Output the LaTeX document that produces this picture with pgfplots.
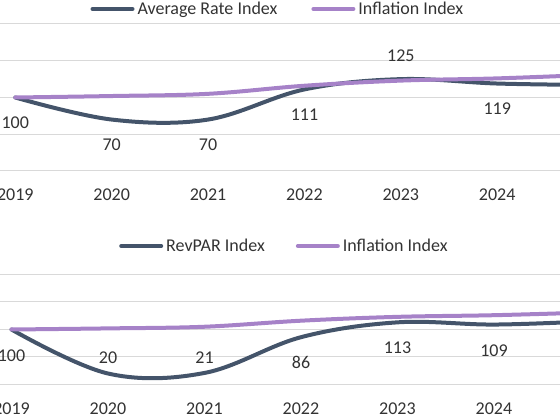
\documentclass[border=0pt]{standalone}
\usepackage{pgfplots}
\usepackage{pgfplotstable}
\pgfplotsset{compat=1.18}
\usepackage{fontspec}
\setmainfont{Carlito}

\definecolor{ratecol}{HTML}{44546A}
\definecolor{inflcol}{HTML}{A682C8}
\definecolor{gridcol}{HTML}{D9D9D9}
\definecolor{txtcol}{HTML}{333333}

% Average rate index vs inflation (2019 = 100)
% dy = label offset, lbl = 1 where the value is printed
\pgfplotstableread{
year rate infl dy lbl
2019 100 100 -25 1
2020 70  102 -25 1
2021 70  105 -25 1
2022 111 116 -25 1
2023 125 123 23  1
2024 119 126 -25 1
2025 117 131 -25 0
}\ratedata

% RevPAR index vs inflation (2019 = 100)
\pgfplotstableread{
year revpar infl dy lbl
2019 100 100 -26 1
2020 20  102 15.5 1
2021 21  105 15.5 1
2022 86  116 -25 1
2023 113 123 -25 1
2024 109 126 -26 1
2025 115 131 -25 0
}\revpardata

\newcommand{\bigfont}{\fontsize{18pt}{21pt}\selectfont}

\pgfplotsset{
  idxchart/.style={
    scale only axis,
    anchor=south west,
    xmin=2018.5, xmax=2025.5,
    ymin=0, ymax=200,
    xtick={2019,...,2024},
    ytick={0,50,100,150,200},
    yticklabels={},
    ymajorgrids,
    grid style={gridcol, line width=1pt},
    axis line style={draw=none},
    major tick length=0pt,
    tick label style={font=\bigfont, text=txtcol},
    xticklabel style={anchor=base, yshift=-29.7pt},
    /pgf/number format/assume math mode=true,
    /pgf/number format/1000 sep={},
    legend columns=2,
    legend cell align=left,
    legend image code/.code={\draw[##1, line cap=round] (0pt,0pt) -- (40pt,0pt);},
    legend style={draw=none, fill=none, inner sep=0pt, anchor=west,
      font=\bigfont, text=txtcol, nodes={inner sep=0pt},
      /tikz/every odd column/.style={column sep=3pt}},
  },
  idxline/.style={line width=4pt, smooth, tension=0.6, line cap=round, no marks},
  withlabels/.style={
    nodes near coords={\ifdim\lblon pt>0.5pt \pgfmathprintnumber{\pgfplotspointmeta}\fi},
    visualization depends on={\thisrow{dy} \as \dy},
    visualization depends on={\thisrow{lbl} \as \lblon},
    every node near coord/.style={font=\bigfont, text=txtcol, anchor=center, yshift=\dy pt},
  },
}

\begin{document}
\begin{tikzpicture}
\useasboundingbox (0,0) rectangle (560pt,420pt);
\clip (0,0) rectangle (560pt,420pt);

% upper panel: average rate
\begin{axis}[idxchart,
  at={(-32.9pt,249pt)}, width=674.8pt, height=147pt,
  legend style={at={(0.1826,1.102)},
    /tikz/every even column/.style={column sep=34pt}}]
\addplot[idxline, ratecol, withlabels] table[x=year, y=rate] {\ratedata};
\addlegendentry{Average Rate Index}
\addplot[idxline, inflcol] table[x=year, y=infl] {\ratedata};
\addlegendentry{Inflation Index}
\end{axis}

% lower panel: RevPAR
\begin{axis}[idxchart,
  at={(-36.75pt,35.5pt)}, width=675.5pt, height=110pt,
  legend style={at={(0.2306,1.259)},
    /tikz/every even column/.style={column sep=31pt}}]
\addplot[idxline, ratecol, withlabels] table[x=year, y=revpar] {\revpardata};
\addlegendentry{RevPAR Index}
\addplot[idxline, inflcol] table[x=year, y=infl] {\revpardata};
\addlegendentry{Inflation Index}
\end{axis}
\end{tikzpicture}
\end{document}
